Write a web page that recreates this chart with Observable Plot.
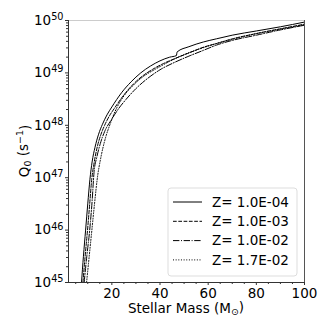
<!DOCTYPE html>
<html>
<head>
<meta charset="utf-8">
<script src="https://cdn.jsdelivr.net/npm/d3@7"></script>
<script src="https://cdn.jsdelivr.net/npm/@observablehq/plot@0.6"></script>
<style>
  html, body { margin: 0; padding: 0; background: white; }
  #chart { width: 332px; height: 332px; }
</style>
</head>
<body>
<div id="chart"></div>
<script>
// ---- data ----
const seriesNames = ["Z= 1.0E-04", "Z= 1.0E-03", "Z= 1.0E-02", "Z= 1.7E-02"];

const massZ1 = [7.4, 8.2, 9.1, 10.0, 10.9, 11.8, 13.0, 14.5, 16.1, 18.0, 20.0, 24.0, 28.0, 32.0, 36.0, 40.0, 44.0, 46.8, 47.1, 52.0, 58.0, 63.4, 70.0, 80.0, 90.0, 100.0];
const logQZ1 = [45.0, 45.5, 46.0, 46.5, 46.97, 47.3, 47.58, 47.83, 48.02, 48.2, 48.35, 48.62, 48.83, 49.0, 49.13, 49.23, 49.3, 49.33, 49.40, 49.5, 49.59, 49.65, 49.72, 49.8, 49.88, 49.97];

const massZ2 = [8.0, 8.9, 9.9, 10.8, 11.65, 12.7, 14.0, 15.5, 17.0, 19.0, 21.0, 25.0, 29.0, 33.0, 37.0, 41.0, 46.0, 52.0, 58.0, 63.4, 70.0, 80.0, 90.0, 100.0];
const logQZ2 = [45.0, 45.5, 46.0, 46.5, 46.97, 47.3, 47.6, 47.83, 48.0, 48.18, 48.32, 48.58, 48.79, 48.95, 49.07, 49.17, 49.27, 49.38, 49.49, 49.56, 49.65, 49.75, 49.84, 49.93];

const massZ3 = [8.5, 9.6, 10.8, 11.8, 12.6, 13.8, 15.2, 17.0, 20.0, 23.0, 26.0, 30.0, 35.0, 40.0, 46.0, 52.0, 58.0, 63.4, 70.0, 80.0, 90.0, 100.0];
const logQZ3 = [45.0, 45.5, 46.0, 46.55, 47.1, 47.4, 47.65, 47.88, 48.12, 48.33, 48.5, 48.7, 48.9, 49.06, 49.2, 49.32, 49.43, 49.53, 49.62, 49.72, 49.82, 49.91];

const massZ4 = [9.5, 10.6, 11.7, 12.8, 14.0, 15.5, 17.3, 19.5, 22.0, 25.0, 29.0, 33.0, 38.0, 44.0, 50.0, 56.0, 63.4, 70.0, 80.0, 90.0, 100.0];
const logQZ4 = [45.0, 45.5, 46.0, 46.5, 47.0, 47.4, 47.75, 48.05, 48.33, 48.56, 48.77, 48.93, 49.07, 49.22, 49.35, 49.45, 49.56, 49.64, 49.75, 49.84, 49.92];

const xTicks = [20, 40, 60, 80, 100];
const xMinor = [5, 10, 15, 25, 30, 35, 45, 50, 55, 65, 70, 75, 85, 90, 95];
const yExponents = [45, 46, 47, 48, 49, 50];

// ---- build ----
const dashes = [null, "3.7,1.6", "6.4,1.6,1,1.6", "1,1.65"];
const masses = [massZ1, massZ2, massZ3, massZ4];
const logQs = [logQZ1, logQZ2, logQZ3, logQZ4];
const series = masses.map((ms, k) => ms.map((m, i) => ({m, q: Math.pow(10, logQs[k][i])})));

const yTicks = yExponents.map(e => Math.pow(10, e));
const yMinor = [];
for (let e = 45; e < 50; e++) for (let k = 2; k <= 9; k++) yMinor.push(k * Math.pow(10, e));

const FONT = "DejaVu Sans, sans-serif";
const FS = 13.5;

const chart = Plot.plot({
  width: 332, height: 332,
  marginLeft: 68, marginRight: 28, marginTop: 20, marginBottom: 50,
  style: {fontFamily: FONT, fontSize: FS + "px", background: "white", color: "black", overflow: "visible"},
  x: {domain: [2, 100]},
  y: {type: "log", domain: [1e45, 1e50]},
  marks: [
    ...series.map((s, k) => Plot.line(s, {x: "m", y: "q", stroke: "black", strokeWidth: 1,
      curve: "monotone-x", strokeDasharray: dashes[k] || undefined, clip: true})),
    Plot.ruleY([1e50], {stroke: "#cccccc", strokeWidth: 1}),
    Plot.ruleX([100], {stroke: "#555555", strokeWidth: 1}),
    Plot.ruleX([2], {stroke: "#333333", strokeWidth: 1}),
    Plot.ruleY([1e45], {stroke: "#333333", strokeWidth: 1}),
    Plot.axisX({ticks: xTicks, tickSize: 3, tickPadding: 3, label: null, stroke: "#333"}),
    Plot.axisX(xMinor, {tickSize: 2, tickFormat: () => "", label: null, stroke: "#333"}),
    Plot.axisY({ticks: yTicks, tickSize: 3, tickPadding: 2, label: null, stroke: "#333",
      tickFormat: d => "10^" + Math.round(Math.log10(d))}),
    Plot.axisY(yMinor, {tickSize: 2, tickFormat: () => "", label: null, stroke: "#333"})
  ]
});

document.getElementById("chart").appendChild(chart);
const svg = d3.select(chart);

// superscript exponents on y tick labels
svg.selectAll("text").each(function() {
  const t = this.textContent;
  const m = /^10\^(\d+)$/.exec(t);
  if (!m) return;
  const sel = d3.select(this);
  sel.selectAll("*").remove();
  sel.text(null);
  sel.append("tspan").text("10");
  sel.append("tspan").attr("dy", "-0.5em").attr("font-size", "0.72em").text(m[1]);
});

// axis labels
const xs = chart.scale("x"), ys = chart.scale("y");
const cx = (xs.range[0] + xs.range[1]) / 2;
const cy = (ys.range[0] + ys.range[1]) / 2;

const xl = svg.append("text").attr("x", cx).attr("y", 313).attr("text-anchor", "middle")
  .attr("font-family", FONT).attr("font-size", FS).attr("fill", "black");
xl.append("tspan").text("Stellar Mass (M");
xl.append("tspan").attr("dy", "0.25em").attr("font-size", "0.7em").text("\u2299");
xl.append("tspan").attr("dy", "-0.25em").text(")");

const yl = svg.append("text").attr("transform", `translate(29,${cy}) rotate(-90)`).attr("text-anchor", "middle")
  .attr("font-family", FONT).attr("font-size", FS).attr("fill", "black");
yl.append("tspan").text("Q");
yl.append("tspan").attr("dy", "0.25em").attr("font-size", "0.7em").text("0");
yl.append("tspan").attr("dy", "-0.25em").text(" (s");
yl.append("tspan").attr("dy", "-0.5em").attr("font-size", "0.7em").text("\u22121");
yl.append("tspan").attr("dy", "0.5em").text(")");

// legend
const lg = svg.append("g").attr("text-anchor", "start");
lg.append("rect").attr("x", 168).attr("y", 188).attr("width", 129).attr("height", 88)
  .attr("rx", 3).attr("fill", "white").attr("fill-opacity", 0.85).attr("stroke", "#dddddd");
seriesNames.forEach((name, k) => {
  const yy = 202 + k * 19.3;
  lg.append("line").attr("x1", 173).attr("x2", 202).attr("y1", yy).attr("y2", yy)
    .attr("stroke", "black").attr("stroke-width", 1)
    .attr("stroke-dasharray", dashes[k] || null);
  lg.append("text").attr("x", 212).attr("y", yy).attr("dy", "0.35em").attr("text-anchor", "start")
    .attr("font-family", FONT).attr("font-size", FS).attr("fill", "black").text(name);
});
</script>
</body>
</html>
